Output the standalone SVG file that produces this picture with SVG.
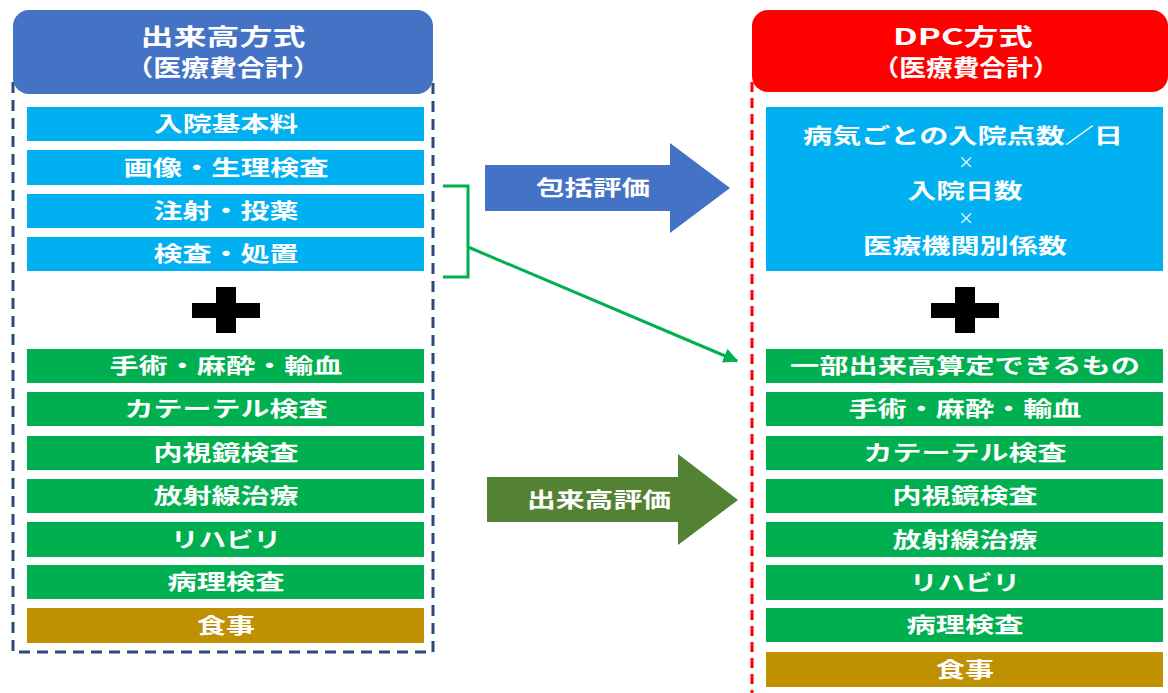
<svg xmlns="http://www.w3.org/2000/svg" width="1168" height="693" viewBox="0 0 1168 693">
<defs>
<style>
text{font-family:"Noto Sans CJK JP","Noto Sans",sans-serif;font-weight:bold;fill:#fff;text-anchor:middle;dominant-baseline:central}
.hd{font-size:23px}
.it{font-size:21px}
.x{font-size:16px;font-weight:normal}
.bl{fill:#00B0F0}
.gr{fill:#00B050}
.gd{fill:#BF9000}
.plus{fill:#000}
</style>
<marker id="ah" viewBox="0 0 10 10" refX="9" refY="5" markerWidth="5" markerHeight="5" orient="auto" markerUnits="strokeWidth">
<path d="M0,0 L10,5 L0,10 z" fill="#00B050"/>
</marker>
</defs>
<rect width="1168" height="693" fill="#fff"/>

<!-- Left panel -->
<g id="left-panel">
<path d="M13,82 V652 H433 V82" fill="none" stroke="#2F4A7A" stroke-width="3" stroke-dasharray="11 7"/>
<rect x="13" y="10" width="420" height="84" rx="16" fill="#4472C4"/>
<text class="hd" x="223" y="35" textLength="165" lengthAdjust="spacingAndGlyphs">出来高方式</text>
<text class="hd" x="223" y="66" textLength="195" lengthAdjust="spacingAndGlyphs">（医療費合計）</text>
</g>
<g id="l1"><rect class="bl" x="27" y="107" width="397" height="34"/><text class="it" x="226" y="122" textLength="144" lengthAdjust="spacingAndGlyphs">入院基本料</text></g>
<g id="l2"><rect class="bl" x="27" y="150" width="397" height="35"/><text class="it" x="226" y="165.5" textLength="205" lengthAdjust="spacingAndGlyphs">画像・生理検査</text></g>
<g id="l3"><rect class="bl" x="27" y="194" width="397" height="34"/><text class="it" x="226" y="209" textLength="145" lengthAdjust="spacingAndGlyphs">注射・投薬</text></g>
<g id="l4"><rect class="bl" x="27" y="237" width="397" height="34"/><text class="it" x="226" y="252" textLength="145" lengthAdjust="spacingAndGlyphs">検査・処置</text></g>
<g id="l-plus"><rect class="plus" x="192" y="303" width="68" height="15"/><rect class="plus" x="216" y="287" width="20" height="46"/></g>
<g id="l5"><rect class="gr" x="27" y="349" width="397" height="34"/><text class="it" x="226" y="364" textLength="233" lengthAdjust="spacingAndGlyphs">手術・麻酔・輸血</text></g>
<g id="l6"><rect class="gr" x="27" y="392" width="397" height="34"/><text class="it" x="226" y="407" textLength="203" lengthAdjust="spacingAndGlyphs">カテーテル検査</text></g>
<g id="l7"><rect class="gr" x="27" y="436" width="397" height="34"/><text class="it" x="226" y="451" textLength="145" lengthAdjust="spacingAndGlyphs">内視鏡検査</text></g>
<g id="l8"><rect class="gr" x="27" y="479" width="397" height="34"/><text class="it" x="226" y="494" textLength="145" lengthAdjust="spacingAndGlyphs">放射線治療</text></g>
<g id="l9"><rect class="gr" x="27" y="522" width="397" height="35"/><text class="it" x="226" y="537.5" textLength="110" lengthAdjust="spacingAndGlyphs">リハビリ</text></g>
<g id="l10"><rect class="gr" x="27" y="565" width="397" height="34"/><text class="it" x="226" y="580" textLength="117" lengthAdjust="spacingAndGlyphs">病理検査</text></g>
<g id="l11"><rect class="gd" x="27" y="608" width="397" height="35"/><text class="it" x="226" y="623.5" textLength="58" lengthAdjust="spacingAndGlyphs">食事</text></g>

<!-- Right panel -->
<g id="right-panel">
<path d="M752,82 V693" fill="none" stroke="#FF0000" stroke-width="3" stroke-dasharray="10 6"/>
<rect x="752" y="10" width="416" height="82" rx="16" fill="#FF0000"/>
<text class="hd" x="963" y="35" textLength="140" lengthAdjust="spacingAndGlyphs">DPC方式</text>
<text class="hd" x="966" y="66" textLength="187" lengthAdjust="spacingAndGlyphs">（医療費合計）</text>
</g>
<g id="r-formula">
<rect class="bl" x="766" y="107" width="397" height="164"/>
<text class="it" x="963" y="134" textLength="320" lengthAdjust="spacingAndGlyphs">病気ごとの入院点数／日</text>
<text class="x" x="966" y="161">×</text>
<text class="it" x="965" y="189" textLength="115" lengthAdjust="spacingAndGlyphs">入院日数</text>
<text class="x" x="966" y="217">×</text>
<text class="it" x="965" y="244" textLength="204" lengthAdjust="spacingAndGlyphs">医療機関別係数</text>
</g>
<g id="r-plus"><rect class="plus" x="931" y="303" width="68" height="15"/><rect class="plus" x="955" y="287" width="20" height="46"/></g>
<g id="r1"><rect class="gr" x="766" y="349" width="397" height="34"/><text class="it" x="965" y="364" textLength="350" lengthAdjust="spacingAndGlyphs">一部出来高算定できるもの</text></g>
<g id="r2"><rect class="gr" x="766" y="392" width="397" height="34"/><text class="it" x="965" y="407" textLength="233" lengthAdjust="spacingAndGlyphs">手術・麻酔・輸血</text></g>
<g id="r3"><rect class="gr" x="766" y="436" width="397" height="34"/><text class="it" x="965" y="451" textLength="203" lengthAdjust="spacingAndGlyphs">カテーテル検査</text></g>
<g id="r4"><rect class="gr" x="766" y="479" width="397" height="34"/><text class="it" x="965" y="494" textLength="145" lengthAdjust="spacingAndGlyphs">内視鏡検査</text></g>
<g id="r5"><rect class="gr" x="766" y="522" width="397" height="35"/><text class="it" x="965" y="537.5" textLength="145" lengthAdjust="spacingAndGlyphs">放射線治療</text></g>
<g id="r6"><rect class="gr" x="766" y="565" width="397" height="35"/><text class="it" x="965" y="580.5" textLength="110" lengthAdjust="spacingAndGlyphs">リハビリ</text></g>
<g id="r7"><rect class="gr" x="766" y="608" width="397" height="34"/><text class="it" x="965" y="623" textLength="117" lengthAdjust="spacingAndGlyphs">病理検査</text></g>
<g id="r8"><rect class="gd" x="766" y="652" width="397" height="35"/><text class="it" x="965" y="667.5" textLength="58" lengthAdjust="spacingAndGlyphs">食事</text></g>

<!-- Connectors -->
<g id="connectors">
<g id="arrow-hokatsu">
<path d="M485,165 H670 V143 L730,188 L670,233 V211 H485 Z" fill="#4472C4"/>
<text class="it" x="593" y="186" textLength="114" lengthAdjust="spacingAndGlyphs">包括評価</text>
</g>
<g id="arrow-dekidaka">
<path d="M487,477 H678 V454 L738,500 L678,545 V522 H487 Z" fill="#548235"/>
<text class="it" x="599" y="498" textLength="144" lengthAdjust="spacingAndGlyphs">出来高評価</text>
</g>
<path id="bracket" d="M443,186 H468 V277 H443" fill="none" stroke="#00B050" stroke-width="3"/>
<line x1="468" y1="247" x2="737" y2="361" stroke="#00B050" stroke-width="3" marker-end="url(#ah)"/>
</g>
</svg>
